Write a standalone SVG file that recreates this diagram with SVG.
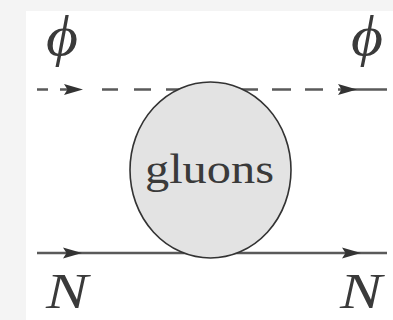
<svg xmlns="http://www.w3.org/2000/svg" width="393" height="320" viewBox="0 0 393 320">
<style>
.math{font-family:"Liberation Serif","DejaVu Serif",serif;font-style:italic;fill:#3a3a3a}
.lbl{font-family:"Liberation Serif","DejaVu Serif",serif;fill:#3a3a3a}
.prop{stroke:#5a5a5a;stroke-width:2.6;fill:none}
.head{fill:#333}
</style>
<rect x="0" y="0" width="393" height="320" fill="#f4f4f4"/>
<rect x="26" y="11" width="367" height="309" fill="#ffffff"/>
<g id="connectors">
<path class="prop" d="M37 89.5H48M60 89.5H72M102 89.5H118M134 89.5H151M166 89.5H183M238 89.5H258M272 89.5H291M305 89.5H323M338 89.5H387"/>
<path class="head" d="M83 89.5L64 84L67.5 89.5L64 95Z"/>
<path class="head" d="M357 89.5L338 84L341.5 89.5L338 95Z"/>
<path class="prop" d="M37 253H387"/>
<path class="head" d="M82 253L63 247.5L66.5 253L63 258.5Z"/>
<path class="head" d="M361 253L342 247.5L345.5 253L342 258.5Z"/>
</g>
<g id="gluons">
<ellipse cx="210.5" cy="170" rx="80.5" ry="88" fill="#e3e3e3" stroke="#333" stroke-width="1.6"/>
<text class="lbl" x="145" y="183" font-size="42" textLength="129" lengthAdjust="spacingAndGlyphs">gluons</text>
</g>
<g id="phi-in"><text class="math" x="46" y="55" font-size="56" textLength="32" lengthAdjust="spacingAndGlyphs">ϕ</text></g>
<g id="phi-out"><text class="math" x="351" y="55" font-size="56" textLength="32" lengthAdjust="spacingAndGlyphs">ϕ</text></g>
<g id="N-in"><text class="math" x="46" y="308" font-size="50" textLength="42" lengthAdjust="spacingAndGlyphs">N</text></g>
<g id="N-out"><text class="math" x="340" y="308" font-size="50" textLength="42" lengthAdjust="spacingAndGlyphs">N</text></g>
</svg>
